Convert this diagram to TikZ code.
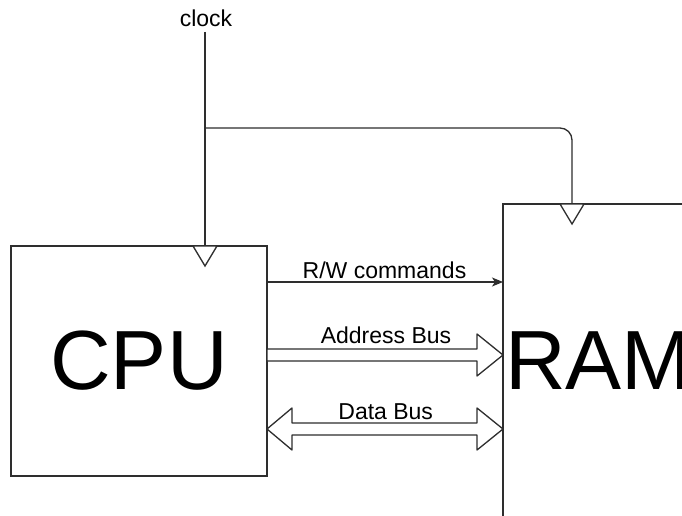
\documentclass[tikz,border=0pt]{standalone}
\usepackage{fontspec}
\setmainfont{Liberation Sans}
\usetikzlibrary{calc,arrows.meta}
\definecolor{linec}{gray}{0.18}
\begin{document}
\begin{tikzpicture}[x=1pt,y=-1pt,
  wire/.style={draw=linec, line width=1.3pt},
  unit/.style={draw=linec, line width=1.3pt, fill=white, inner sep=0pt, outer sep=0pt, anchor=north west},
  big/.style={font=\fontsize{84}{84}\selectfont, inner sep=0pt},
  lbl/.style={font=\fontsize{23}{24}\selectfont, inner sep=0pt, anchor=base},
  clocktri/.style={draw=linec, line width=1.3pt, fill=white, line join=miter},
  bus/.style={draw=linec, line width=1.3pt, fill=white, line join=round}]
  \useasboundingbox (0,0) rectangle (682,516);
  \clip (0,0) rectangle (682,516);
  \fill[white] (0,0) rectangle (682,516);

  % the two units
  \node[unit, minimum width=256pt, minimum height=230pt] (cpu) at (11,246) {};
  \node[unit, minimum width=260pt, minimum height=400pt] (ram) at (503,204) {};
  \node[big] (cpulbl) at (cpu.center) {CPU};
  \node[big, anchor=west] (ramlbl) at ($(ram.west |- cpu.center)+(2,0)$) {RAM};

  % clock distribution
  \node[lbl] (clk) at (206,26.5) {clock};
  \coordinate (cpuclk) at ($(cpu.north west)+(194,0)$);
  \coordinate (ramclk) at ($(ram.north west)+(69,0)$);
  \coordinate (clktap) at (cpuclk |- 0,128);
  \draw[wire] (cpuclk |- 0,32) -- (cpuclk);
  \draw[wire, rounded corners=12pt] (clktap) -- (ramclk |- clktap) -- (ramclk);
  \draw[clocktri] ($(cpuclk)+(-12,0)$) -- ($(cpuclk)+(12,0)$) -- ($(cpuclk)+(0,20)$) -- cycle;
  \draw[clocktri] ($(ramclk)+(-12,0)$) -- ($(ramclk)+(12,0)$) -- ($(ramclk)+(0,20)$) -- cycle;

  % read/write command line
  \draw[wire, -{Stealth[length=11pt,width=9pt,inset=3pt]}] (cpu.east |- 0,282) -- (ram.west |- 0,282);
  \node[lbl] (rwlbl) at (384.5,278.5) {R/W commands};

  % address bus (one way)
  \coordinate (abL) at (cpu.east |- 0,355);
  \coordinate (abR) at (ram.west |- 0,355);
  \draw[bus] ($(abL)+(0,-6)$) -- ($(abR)+(-26,-6)$) -- ($(abR)+(-26,-21)$) -- (abR)
    -- ($(abR)+(-26,21)$) -- ($(abR)+(-26,6)$) -- ($(abL)+(0,6)$) -- cycle;
  \node[lbl] (ablbl) at (386,343) {Address Bus};

  % data bus (both ways)
  \coordinate (dbL) at (cpu.east |- 0,429);
  \coordinate (dbR) at (ram.west |- 0,429);
  \draw[bus] (dbL) -- ($(dbL)+(25,-21)$) -- ($(dbL)+(25,-6)$) -- ($(dbR)+(-26,-6)$)
    -- ($(dbR)+(-26,-21)$) -- (dbR) -- ($(dbR)+(-26,21)$) -- ($(dbR)+(-26,6)$)
    -- ($(dbL)+(25,6)$) -- ($(dbL)+(25,21)$) -- cycle;
  \node[lbl] (dblbl) at (385.7,419) {Data Bus};
\end{tikzpicture}
\end{document}
